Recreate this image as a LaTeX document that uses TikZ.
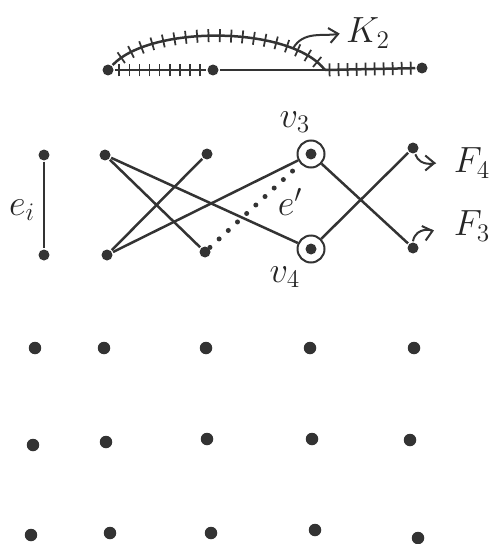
\documentclass[tikz,border=0pt]{standalone}
\usepackage{amsmath}
\usepackage{amssymb}
\usepackage{tikz}
\usetikzlibrary{positioning,arrows.meta,decorations.markings}

\begin{document}
\begin{tikzpicture}[x=0.02cm,y=0.02cm,color=black!80,line width=0.5mm,
  dot/.style={circle,fill=black!80,inner sep=0pt,minimum size=0.22cm},
  bigdot/.style={circle,fill=black!80,inner sep=0pt,minimum size=0.25cm},
  ringdot/.style={circle,draw,line width=0.4mm,inner sep=0pt,minimum size=0.54cm,
    path picture={\fill (path picture bounding box.center) circle (0.11cm);}},
  lbl/.style={font=\fontsize{20}{22}\selectfont,inner sep=1pt,text=black!85},
  hatch/.style={postaction={decorate,decoration={markings,
    mark=between positions 0.05 and 0.97 step #1 with {\draw[line width=0.35mm] (0,-0.13cm) -- (0,0.13cm);}}}},
  arr/.style={-{Straight Barb[length=0.18cm,width=0.3cm]},line width=0.4mm}]
\useasboundingbox (0,0) rectangle (497,-544);

% K_2 on top: hatched edges and the hatched arc
\node[dot] (k1) at (108,-70) {};
\node[dot] (k2) at (213,-70) {};
\coordinate (k3) at (325,-70);
\node[dot] (k4) at (422,-68) {};
\draw[hatch=0.11] (k1) -- (k2);
\draw (k2) -- (k3);
\draw[hatch=0.1] (k3) -- (k4);
\draw[hatch=0.05] (k1) .. controls (150,-25) and (290,-25) .. (k3) coordinate[pos=0.8] (karc);
\node[lbl] (K2) at (368,-33) {$K_2$};
\draw[arr,shorten >=2pt] (karc) to[out=60,in=190] (K2.west);

% the edge e_i
\node[dot] (ei1) at (44,-155) {};
\node[dot] (ei2) at (44,-255) {};
\draw (ei1) -- (ei2);
\node[lbl] (lei) at (22,-210) {$e_i$};

% the forest with v_3, v_4
\node[dot] (a1) at (105,-155) {};
\node[dot] (a2) at (207,-154) {};
\node[ringdot] (v3) at (311,-154) {};
\node[dot] (f4) at (413,-148) {};
\node[dot] (b1) at (107,-255) {};
\node[dot] (b2) at (205,-252) {};
\node[ringdot] (v4) at (311,-249) {};
\node[dot] (f3) at (413,-248) {};

\draw (a1) -- (b2);
\draw (a1) -- (v4);
\draw (b1) -- (a2);
\draw (b1) -- (v3);
\draw (v3) -- (f3);
\draw (v4) -- (f4);
\draw[line width=1mm,line cap=round,dash pattern=on 0pt off 0.25cm] (b2) -- (v3);

\node[lbl] (lv3) at (295,-122) {$v_3$};
\node[lbl] (lv4) at (285,-277) {$v_4$};
\node[lbl] (le) at (290,-202) {$e'$};
\node[lbl] (F4) at (472,-163) {$F_4$};
\node[lbl] (F3) at (472,-226) {$F_3$};
\draw[arr,shorten >=0.3cm] (f4) to[out=-70,in=180] (F4.west);
\draw[arr,shorten >=0.35cm] (f3.north) to[out=80,in=195] (F3.west);

% the grid of isolated vertices
\foreach \i/\x/\y in {1/35/348,2/104/348,3/206/348,4/310/348,5/414/348,
                      6/33/445,7/106/442,8/207/439,9/312/439,10/410/440,
                      11/31/535,12/110/533,13/211/533,14/315/530,15/418/538} {
    \node[bigdot] (g\i) at (\x,-\y) {};
}
\end{tikzpicture}
\end{document}
